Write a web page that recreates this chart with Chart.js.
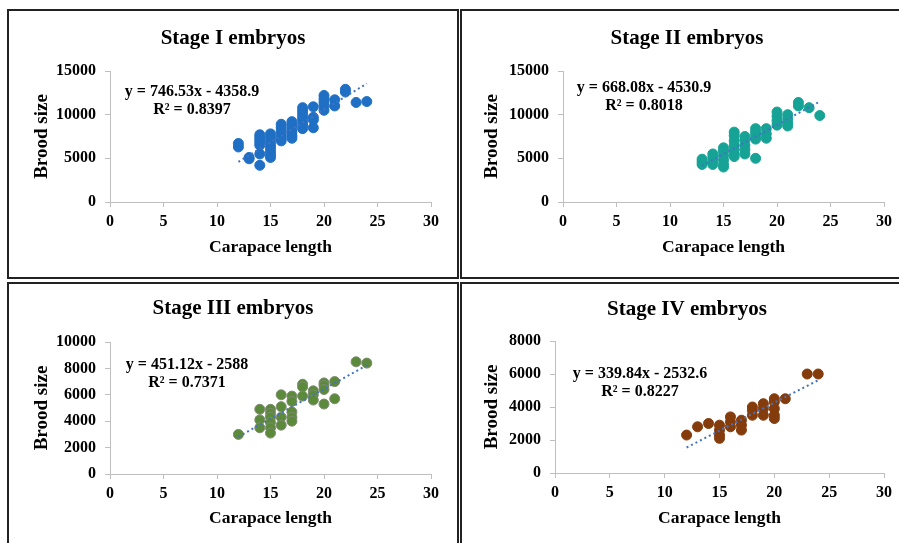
<!DOCTYPE html>
<html>
<head>
<meta charset="utf-8">
<script src="https://cdn.jsdelivr.net/npm/chart.js@4.4.1/dist/chart.umd.min.js"></script>
<style>
  html, body { margin: 0; padding: 0; background: #fff; width: 899px; height: 543px; overflow: hidden; position: relative; }
  .panel { position: absolute; box-sizing: border-box; border: 2px solid #222; }
  canvas { position: absolute; }
</style>
</head>
<body>
<div class="panel" style="left:7px;top:9px;width:452px;height:270px;"></div>
<div class="panel" style="left:460px;top:9px;width:460px;height:270px;"></div>
<div class="panel" style="left:7px;top:282px;width:452px;height:300px;"></div>
<div class="panel" style="left:460px;top:282px;width:460px;height:300px;"></div>
<canvas id="c1" width="448" height="266" style="left:9px;top:11px;"></canvas>
<canvas id="c2" width="450" height="266" style="left:462px;top:11px;"></canvas>
<canvas id="c3" width="448" height="259" style="left:9px;top:284px;"></canvas>
<canvas id="c4" width="450" height="259" style="left:462px;top:284px;"></canvas>
<script>
// ---------- DATA ----------
const titles = ['Stage I embryos', 'Stage II embryos', 'Stage III embryos', 'Stage IV embryos'];
const xAxisTitle = 'Carapace length';
const yAxisTitle = 'Brood size';
const xTicksMax = 30;
const xTickStep = 5;
const yMaxes = [15000, 15000, 10000, 8000];
const ySteps = [5000, 5000, 2000, 2000];

const stage1X = [12,12, 13,13, 14,14,14,14,14,14,14, 15,15,15,15,15,15,15,15, 16,16,16,16,16,16, 17,17,17,17,17,17, 18,18,18,18,18,18,18, 19,19,19,19, 20,20,20,20,20, 21,21, 22,22, 23, 24];
const stage1Y = [6700,6300, 5100,4950, 7700,7400,7100,6800,6500,5500,4200, 7800,7400,7000,6600,6200,5800,5400,5100, 8900,8500,8100,7700,7300,7000, 9200,8800,8400,8000,7600,7300, 10800,10400,10000,9600,9200,8800,8400, 10900,9700,9400,8500, 12200,11800,11400,11000,10500, 11700,11000, 12900,12600, 11400, 11500];

const stage2X = [13,13,13, 14,14,14,14, 15,15,15,15,15,15, 16,16,16,16,16,16,16, 17,17,17,17,17, 18,18,18,18,18, 19,19,19, 20,20,20,20, 21,21,21,21, 22,22, 23, 24];
const stage2Y = [4900,4600,4300, 5500,5100,4700,4300, 6200,5800,5300,4800,4300,4000, 8000,7600,7000,6500,6000,5500,5200, 7500,7100,6500,6000,5500, 8400,8000,7600,7200,5000, 8400,7800,7300, 10300,9800,9300,8800, 10000,9500,9000,8700, 11400,11000, 10800, 9900];

const stage3X = [12, 14,14,14, 15,15,15,15,15,15, 16,16,16,16, 17,17,17,17,17, 18,18,18, 19,19,19, 20,20,20,20, 21,21, 23, 24];
const stage3Y = [3000, 4900,4100,3500, 4900,4600,4300,3900,3500,3100, 6000,5100,4300,3700, 5900,5500,4700,4300,4000, 6800,6600,5900, 6300,6000,5600, 6900,6700,6400,5300, 7000,5700, 8500, 8400];

const stage4X = [12, 13, 14, 15,15,15,15, 16,16,16, 17,17,17, 18,18,18, 19,19,19, 20,20,20,20,20, 21, 23, 24];
const stage4Y = [2300, 2800, 3000, 2900,2600,2300,2100, 3400,3100,2800, 3200,2900,2600, 4000,3800,3500, 4200,3900,3500, 4500,4300,3900,3500,3300, 4500, 6000, 6000];

const slopes = [746.53, 668.08, 451.12, 339.84];
const intercepts = [-4358.9, -4530.9, -2588, -2532.6];
const rSquared = [0.8397, 0.8018, 0.7371, 0.8227];

// ---------- STYLE / LAYOUT ----------
const pointColors = ['#1f6fc4', '#16a396', '#5b8a3a', '#843c0c'];
const pointBorders = ['#1f6fc4', '#16a396', '#7d8a72', '#843c0c'];
const FONT = "'Times New Roman', 'Liberation Serif', serif";

// page coordinates: canvas rect, chart area, text positions
const layouts = [
  { cx: 9,   cy: 11,  cw: 448, ch: 266, L: 110, R: 431, T: 71,  B: 202, titleY: 39,  xTitleY: 247, yTitleX: 42,  eqDX: 82, eqDY: 21 },
  { cx: 462, cy: 11,  cw: 450, ch: 266, L: 563, R: 884, T: 71,  B: 202, titleY: 39,  xTitleY: 247, yTitleX: 492, eqDX: 81, eqDY: 17 },
  { cx: 9,   cy: 284, cw: 448, ch: 259, L: 110, R: 431, T: 342, B: 474, titleY: 309, xTitleY: 518, yTitleX: 42,  eqDX: 77, eqDY: 23 },
  { cx: 462, cy: 284, cw: 450, ch: 259, L: 555, R: 884, T: 341, B: 473, titleY: 310, xTitleY: 518, yTitleX: 492, eqDX: 85, eqDY: 33 }
];

const xsAll = [stage1X, stage2X, stage3X, stage4X];
const ysAll = [stage1Y, stage2Y, stage3Y, stage4Y];

const eqPlugin = {
  id: 'eqLabel',
  afterDatasetsDraw(chart, args, opts) {
    const ctx = chart.ctx;
    const a = chart.chartArea;
    ctx.save();
    ctx.font = 'bold 16px ' + FONT;
    ctx.fillStyle = '#000';
    ctx.textAlign = 'center';
    ctx.textBaseline = 'middle';
    ctx.fillText(opts.line1, a.left + opts.dx, a.top + opts.dy);
    ctx.fillText(opts.line2, a.left + opts.dx, a.top + opts.dy + 18);
    ctx.restore();
  }
};

function makeChart(i) {
  const lay = layouts[i];
  const xs = xsAll[i], ys = ysAll[i];
  const pts = xs.map((x, k) => ({ x: x, y: ys[k] }));
  const xmin = Math.min(...xs), xmax = Math.max(...xs);
  const trend = [xmin, xmax].map(x => ({ x: x, y: slopes[i] * x + intercepts[i] }));

  const W = lay.cw, H = lay.ch;
  const L = lay.L - lay.cx, R = lay.R - lay.cx, T = lay.T - lay.cy, B = lay.B - lay.cy;
  const titleSize = 21, titleLH = titleSize * 1.2;
  const tPadTop = (lay.titleY - lay.cy) - titleLH / 2;
  const tPadBottom = T - tPadTop - titleLH;
  const xtSize = 17.5, xtLH = xtSize * 1.2;
  const ytSize = 19, ytLH = ytSize * 1.2;
  const xtPadBottom = H - (lay.xTitleY - lay.cy) - xtLH / 2;
  const ytPadTop = (lay.yTitleX - lay.cx) - ytLH / 2;

  const sign = intercepts[i] < 0 ? ' - ' : ' + ';
  const line1 = 'y = ' + slopes[i] + 'x' + sign + Math.abs(intercepts[i]);
  const line2 = 'R² = ' + rSquared[i];
  const tickFont = { family: FONT, size: 16, weight: 'bold', lineHeight: 1.2 };

  new Chart(document.getElementById('c' + (i + 1)), {
    type: 'scatter',
    data: {
      datasets: [
        {
          type: 'line',
          data: trend,
          borderColor: '#4472c4',
          borderWidth: 2,
          borderDash: [2, 3],
          pointRadius: 0,
          fill: false,
          order: 0
        },
        {
          data: pts,
          backgroundColor: pointColors[i],
          borderColor: pointBorders[i],
          borderWidth: 1,
          pointRadius: 5,
          pointHoverRadius: 5,
          order: 1
        }
      ]
    },
    options: {
      responsive: false,
      animation: false,
      events: [],
      layout: { padding: 0 },
      plugins: {
        legend: { display: false },
        tooltip: { enabled: false },
        title: {
          display: true,
          text: titles[i],
          color: '#000',
          font: { family: FONT, size: titleSize, weight: 'bold', lineHeight: 1.2 },
          padding: { top: tPadTop, bottom: tPadBottom }
        },
        eqLabel: { line1: line1, line2: line2, dx: lay.eqDX, dy: lay.eqDY }
      },
      scales: {
        x: {
          type: 'linear',
          min: 0, max: xTicksMax,
          afterFit: s => { s.height = H - B; },
          border: { display: true, color: '#bfbfbf', width: 1 },
          grid: { drawOnChartArea: false, drawTicks: true, tickLength: 5, color: '#bfbfbf' },
          ticks: { stepSize: xTickStep, color: '#000', padding: 5, font: tickFont, callback: v => String(v) },
          title: { display: true, text: xAxisTitle, color: '#000', font: { family: FONT, size: xtSize, weight: 'bold', lineHeight: 1.2 }, padding: { top: 0, bottom: xtPadBottom } }
        },
        y: {
          type: 'linear',
          min: 0, max: yMaxes[i],
          afterFit: s => { s.width = L; },
          border: { display: true, color: '#bfbfbf', width: 1 },
          grid: { drawOnChartArea: false, drawTicks: true, tickLength: 5, color: '#bfbfbf' },
          ticks: { stepSize: ySteps[i], color: '#000', padding: 9, font: tickFont, callback: v => String(v) },
          title: { display: true, text: yAxisTitle, color: '#000', font: { family: FONT, size: ytSize, weight: 'bold', lineHeight: 1.2 }, padding: { top: ytPadTop, bottom: 0 } }
        },
        rightSpace: {
          type: 'linear',
          position: 'right',
          display: true,
          afterFit: s => { s.width = W - R; },
          border: { display: false },
          grid: { display: false, drawTicks: false },
          ticks: { display: false }
        }
      }
    },
    plugins: [eqPlugin]
  });
}

for (let i = 0; i < 4; i++) makeChart(i);
</script>
</body>
</html>
